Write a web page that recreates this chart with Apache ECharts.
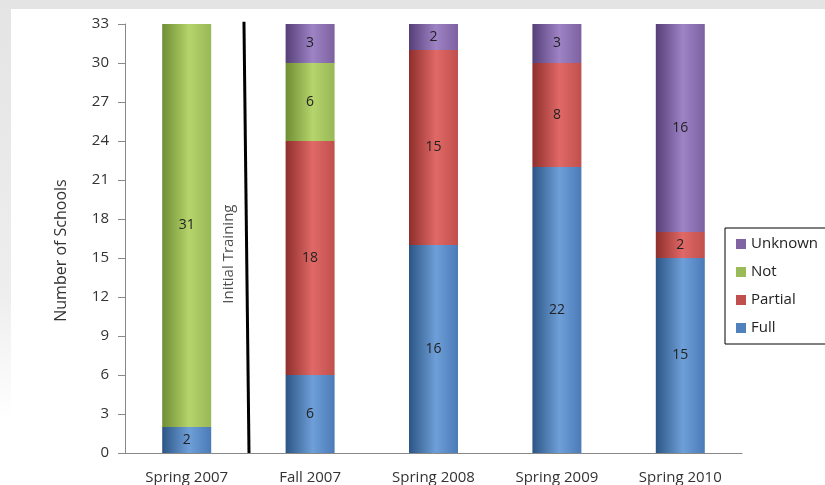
<!DOCTYPE html>
<html><head><meta charset="utf-8">
<script src="https://cdn.jsdelivr.net/npm/echarts@6/dist/echarts.min.js"></script>
<style>html,body{margin:0;padding:0;background:#fff}#c{width:825px;height:485px}</style>
</head><body><div id="c"></div>
<script>
const categories = ['Spring 2007', 'Fall 2007', 'Spring 2008', 'Spring 2009', 'Spring 2010'];
const full    = [2, 6, 16, 22, 15];
const partial = [0, 18, 15, 8, 2];
const notVals = [31, 6, 0, 0, 0];
const unknown = [0, 3, 2, 3, 16];
const yTicks = {min: 0, max: 33, interval: 3};
const trainingLine = [[0.964, 33.18], [1.005, 0]];
const trainingLabel = [[0.843, 15.3]];

function grad(dark, light, mid) {
  return new echarts.graphic.LinearGradient(0, 0, 1, 0, [
    {offset: 0, color: dark}, {offset: 0.55, color: light}, {offset: 1, color: mid}
  ]);
}
const font = 'Open Sans';
function bar(name, data, dark, light, mid) {
  return {
    name: name, type: 'bar', stack: 's', barWidth: 49, data: data.map(v => v === 0 ? null : v),
    itemStyle: {color: grad(dark, light, mid)},
    label: {show: true, position: 'inside', color: '#222', fontSize: 14, fontFamily: font},
    emphasis: {disabled: true}
  };
}
const chart = echarts.init(document.getElementById('c'));
chart.setOption({
  animation: false,
  backgroundColor: '#fff',
  graphic: [
    {type: 'rect', left: 0, top: 0, shape: {width: 825, height: 9}, style: {fill: '#e4e4e4'}, silent: true},
    {type: 'rect', left: 0, top: 0, shape: {width: 11, height: 420},
     style: {fill: new echarts.graphic.LinearGradient(0, 0, 0, 1, [{offset: 0, color: '#e4e4e4'}, {offset: 0.7, color: '#eeeeee'}, {offset: 1, color: '#ffffff'}])}, silent: true}
  ],
  grid: {left: 125, right: 83, top: 24, bottom: 32},
  legend: {
    orient: 'vertical', left: 725, top: 228, itemWidth: 10, itemHeight: 10, itemGap: 10,
    padding: [7, 30, 7, 11], borderColor: '#000', borderWidth: 1, icon: 'rect',
    textStyle: {fontSize: 15, lineHeight: 18, fontFamily: font, color: '#222'},
    data: [
      {name: 'Unknown', itemStyle: {color: '#8064a2'}},
      {name: 'Not', itemStyle: {color: '#9bbb59'}},
      {name: 'Partial', itemStyle: {color: '#c0504d'}},
      {name: 'Full', itemStyle: {color: '#4f81bd'}}
    ]
  },
  xAxis: [{
    type: 'category', data: categories,
    axisLine: {lineStyle: {color: '#888'}},
    axisTick: {length: 6, lineStyle: {color: '#888'}},
    axisLabel: {color: '#333', fontSize: 15, fontFamily: font, margin: 17}
  }, {
    type: 'value', min: 0, max: 5, show: false
  }],
  yAxis: {
    type: 'value', min: yTicks.min, max: yTicks.max, interval: yTicks.interval,
    name: 'Number of Schools', nameLocation: 'middle', nameGap: 56,
    nameTextStyle: {fontSize: 16, fontFamily: font, color: '#333', padding: [0, 24, 0, 0]},
    axisLine: {show: true, lineStyle: {color: '#888'}},
    axisTick: {show: true, length: 7, lineStyle: {color: '#888'}},
    splitLine: {show: false},
    axisLabel: {color: '#333', fontSize: 15, fontFamily: font, margin: 16}
  },
  series: [
    bar('Full', full, '#2b5585', '#6f9fd8', '#4a7bb8'),
    bar('Partial', partial, '#8f2e2c', '#e06966', '#c0504d'),
    bar('Not', notVals, '#6f8d33', '#b5d46c', '#98b856'),
    bar('Unknown', unknown, '#563f78', '#9e83c5', '#7d61a0'),
    {
      type: 'line', xAxisIndex: 1, data: trainingLine, symbol: 'none', clip: false,
      lineStyle: {color: '#000', width: 3}, silent: true, z: 5
    },
    {
      type: 'scatter', xAxisIndex: 1, data: trainingLabel, symbolSize: 0, silent: true,
      label: {show: true, formatter: 'Initial Training', rotate: 90, position: 'inside',
              fontSize: 15, fontFamily: font, color: '#222'}
    }
  ]
});
</script></body></html>
